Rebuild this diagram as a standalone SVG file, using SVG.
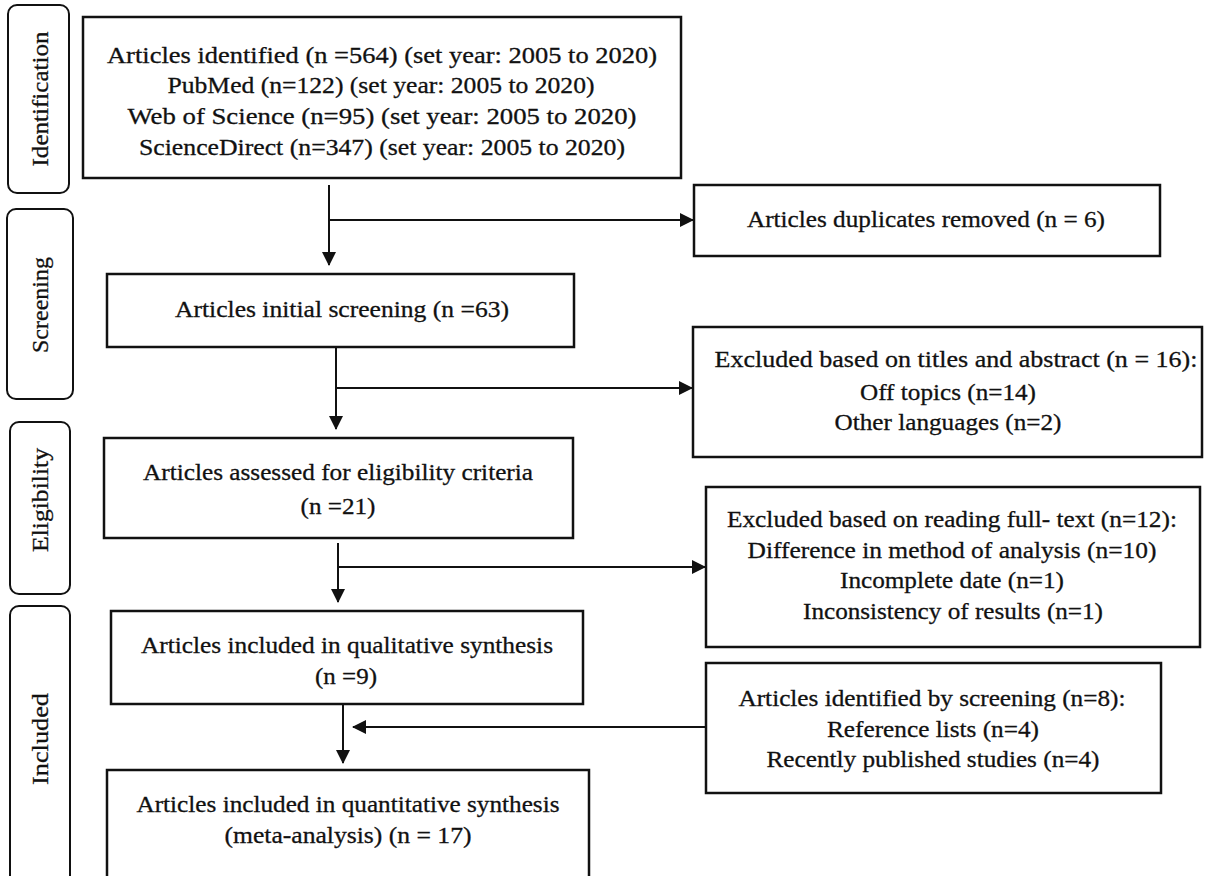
<svg xmlns="http://www.w3.org/2000/svg" width="1209" height="876" viewBox="0 0 1209 876">
<style>
  .phase { fill: #fff; stroke: #111; stroke-width: 2; }
  .box { fill: #fff; stroke: #111; stroke-width: 2.5; }
  .t { font-family: "Liberation Serif", "Times New Roman", serif; font-size: 24px; fill: #111; stroke: #111; stroke-width: 0.3; text-anchor: middle; }
  .conn { fill: none; stroke: #111; stroke-width: 2; }
</style>
<defs>
  <marker id="arr" markerUnits="userSpaceOnUse" markerWidth="14" markerHeight="14" refX="13" refY="7" orient="auto">
    <path d="M0,0 L14,7 L0,14 Z" fill="#111"/>
  </marker>
</defs>
<rect width="1209" height="876" fill="#fff"/>

<g id="phase-identification">
  <rect class="phase" x="8" y="5" width="61" height="188" rx="9"/>
  <text class="t" transform="translate(48,99) rotate(-90)" textLength="135" lengthAdjust="spacingAndGlyphs">Identification</text>
</g>
<g id="phase-screening">
  <rect class="phase" x="7" y="209" width="66" height="190" rx="9"/>
  <text class="t" transform="translate(48,305) rotate(-90)" textLength="96" lengthAdjust="spacingAndGlyphs">Screening</text>
</g>
<g id="phase-eligibility">
  <rect class="phase" x="10" y="422" width="60" height="172" rx="9"/>
  <text class="t" transform="translate(48,500) rotate(-90)" textLength="104" lengthAdjust="spacingAndGlyphs">Eligibility</text>
</g>
<g id="phase-included">
  <rect class="phase" x="10" y="606" width="60" height="300" rx="9"/>
  <text class="t" transform="translate(48,739) rotate(-90)" textLength="92" lengthAdjust="spacingAndGlyphs">Included</text>
</g>

<g id="connectors">
  <line class="conn" x1="329" y1="185" x2="329" y2="265" marker-end="url(#arr)"/>
  <line class="conn" x1="329" y1="220" x2="693" y2="220" marker-end="url(#arr)"/>
  <line class="conn" x1="336" y1="347" x2="336" y2="429" marker-end="url(#arr)"/>
  <line class="conn" x1="336" y1="388" x2="692" y2="388" marker-end="url(#arr)"/>
  <line class="conn" x1="338" y1="543" x2="338" y2="602" marker-end="url(#arr)"/>
  <line class="conn" x1="338" y1="567" x2="705" y2="567" marker-end="url(#arr)"/>
  <line class="conn" x1="343" y1="704" x2="343" y2="763" marker-end="url(#arr)"/>
  <line class="conn" x1="706" y1="727" x2="353" y2="727" marker-end="url(#arr)"/>
</g>

<g id="node-identified">
  <rect class="box" x="83" y="17" width="598" height="161"/>
  <text class="t" x="382" y="63" textLength="550" lengthAdjust="spacingAndGlyphs">Articles identified (n =564) (set year: 2005 to 2020)</text>
  <text class="t" x="381" y="93" textLength="427" lengthAdjust="spacingAndGlyphs">PubMed (n=122) (set year: 2005 to 2020)</text>
  <text class="t" x="382" y="124" textLength="509" lengthAdjust="spacingAndGlyphs">Web of Science (n=95) (set year: 2005 to 2020)</text>
  <text class="t" x="382" y="155" textLength="486" lengthAdjust="spacingAndGlyphs">ScienceDirect (n=347) (set year: 2005 to 2020)</text>
</g>

<g id="node-duplicates">
  <rect class="box" x="694" y="185" width="466" height="71"/>
  <text class="t" x="926" y="227" textLength="358" lengthAdjust="spacingAndGlyphs">Articles duplicates removed (n = 6)</text>
</g>

<g id="node-screening">
  <rect class="box" x="107" y="274" width="467" height="73"/>
  <text class="t" x="342" y="317" textLength="334" lengthAdjust="spacingAndGlyphs">Articles initial screening (n =63)</text>
</g>

<g id="node-excluded-titles">
  <rect class="box" x="693" y="327" width="509" height="130"/>
  <text class="t" x="956" y="367" textLength="483" lengthAdjust="spacingAndGlyphs">Excluded based on titles and abstract (n = 16):</text>
  <text class="t" x="948" y="400" textLength="176" lengthAdjust="spacingAndGlyphs">Off topics (n=14)</text>
  <text class="t" x="948" y="430" textLength="227" lengthAdjust="spacingAndGlyphs">Other languages (n=2)</text>
</g>

<g id="node-eligibility">
  <rect class="box" x="104" y="438" width="469" height="100"/>
  <text class="t" x="338" y="480" textLength="390" lengthAdjust="spacingAndGlyphs">Articles assessed for eligibility criteria</text>
  <text class="t" x="338" y="514" textLength="75" lengthAdjust="spacingAndGlyphs">(n =21)</text>
</g>

<g id="node-excluded-fulltext">
  <rect class="box" x="706" y="487" width="494" height="160"/>
  <text class="t" x="952" y="527" textLength="450" lengthAdjust="spacingAndGlyphs">Excluded based on reading full- text (n=12):</text>
  <text class="t" x="952" y="558" textLength="409" lengthAdjust="spacingAndGlyphs">Difference in method of analysis (n=10)</text>
  <text class="t" x="952" y="588" textLength="224" lengthAdjust="spacingAndGlyphs">Incomplete date (n=1)</text>
  <text class="t" x="953" y="619" textLength="300" lengthAdjust="spacingAndGlyphs">Inconsistency  of results (n=1)</text>
</g>

<g id="node-qualitative">
  <rect class="box" x="111" y="611" width="472" height="93"/>
  <text class="t" x="347" y="653" textLength="412" lengthAdjust="spacingAndGlyphs">Articles included in qualitative synthesis</text>
  <text class="t" x="346" y="684" textLength="62" lengthAdjust="spacingAndGlyphs">(n =9)</text>
</g>

<g id="node-additional">
  <rect class="box" x="706" y="663" width="455" height="130"/>
  <text class="t" x="932" y="706" textLength="387" lengthAdjust="spacingAndGlyphs">Articles identified by screening (n=8):</text>
  <text class="t" x="933" y="737" textLength="212" lengthAdjust="spacingAndGlyphs">Reference lists (n=4)</text>
  <text class="t" x="933" y="767" textLength="333" lengthAdjust="spacingAndGlyphs">Recently published studies (n=4)</text>
</g>

<g id="node-quantitative">
  <rect class="box" x="107" y="770" width="482" height="130"/>
  <text class="t" x="348" y="812" textLength="423" lengthAdjust="spacingAndGlyphs">Articles included in quantitative synthesis</text>
  <text class="t" x="348" y="843" textLength="247" lengthAdjust="spacingAndGlyphs">(meta-analysis) (n = 17)</text>
</g>
</svg>
